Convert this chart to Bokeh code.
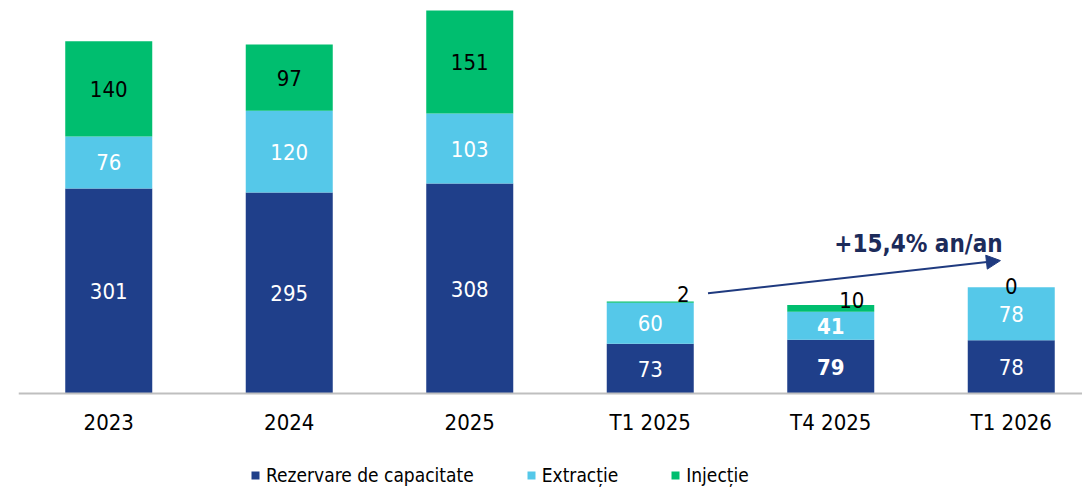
from bokeh.plotting import figure
from bokeh.models import (Range1d, ColumnDataSource, Legend, LegendItem, Arrow,
                          NormalHead, Label, FixedTicker)
from bokeh.core.properties import value
from bokeh.embed import file_html
from bokeh.resources import INLINE

# ---- data ----
categories = ["2023", "2024", "2025", "T1 2025", "T4 2025", "T1 2026"]
rezervare = [301, 295, 308, 73, 79, 78]
extractie = [76, 120, 103, 60, 41, 78]
injectie = [140, 97, 151, 2, 10, 0]
series_names = ["Rezervare de capacitate", "Extracție", "Injecție"]
growth_text = "+15,4% an/an"

# ---- style ----
colors = ["#1F3F8A", "#55C8E9", "#00BE6F"]
label_colors = ["white", "white", "black"]
bold_categories = ["T4 2025"]
FONT = "DejaVu Sans Condensed"
NAVY = "#1F3A7F"
# pixel offsets of the small injection labels (Excel-style placement)
inj_dx = [0, 0, 0, 33, 21, 0]
inj_dy = [0, 0, 0, 8, 8, 1]

xs = list(range(len(categories)))
src = ColumnDataSource(dict(x=xs, r=rezervare, e=extractie, i=injectie))

p = figure(width=1082, height=487, x_range=Range1d(-0.5, -0.5 + 1064 / 180.5),
           y_range=Range1d(-138, 565), output_backend="svg", toolbar_location=None,
           min_border_left=18, min_border_right=0, min_border_top=8, min_border_bottom=0)

rs = p.vbar_stack(["r", "e", "i"], x="x", width=0.482, source=src, color=colors,
                  line_color=None)

# data labels
lx, ly, lt, lc, ls, ldx, ldy = [], [], [], [], [], [], []
for j, cat in enumerate(categories):
    bottom = 0
    for k, vals in enumerate([rezervare, extractie, injectie]):
        v = vals[j]
        lx.append(j)
        ly.append(bottom + v / 2)
        lt.append(str(v))
        lc.append(label_colors[k])
        ls.append("bold" if (cat in bold_categories and k < 2) else "normal")
        if k == 2:
            ldx.append(inj_dx[j]); ldy.append(-inj_dy[j])
        else:
            ldx.append(0); ldy.append(0)
        bottom += v
lsrc = ColumnDataSource(dict(x=lx, y=ly, t=lt, c=lc, s=ls, dx=ldx, dy=ldy))
p.text(x="x", y="y", text="t", source=lsrc, text_color="c", text_font_style="s",
       x_offset="dx", y_offset="dy", text_align="center", text_baseline="middle",
       text_font=value(FONT), text_font_size="22px")

# growth arrow + label
p.add_layout(Arrow(end=NormalHead(size=14, fill_color=NAVY, line_color=NAVY),
                   x_start=3 + 0.32, y_start=147, x_end=5 - 0.06, y_end=195,
                   line_color=NAVY, line_width=2))
p.add_layout(Label(x=4.486, y=220, text=growth_text, text_align="center",
                   text_baseline="middle", text_font=FONT, text_font_size="24px",
                   text_font_style="bold", text_color="#1C2B5A"))

# axes
p.yaxis.visible = False
p.xgrid.visible = False
p.ygrid.visible = False
p.outline_line_color = None
xa = p.xaxis[0]
xa.fixed_location = 0
xa.ticker = FixedTicker(ticks=xs)
xa.major_label_overrides = {i: c for i, c in enumerate(categories)}
xa.major_tick_line_color = None
xa.minor_tick_line_color = None
xa.axis_line_color = "#BFBFBF"
xa.axis_line_width = 2
xa.major_label_standoff = 11
xa.major_label_text_font = FONT
xa.major_label_text_font_size = "22px"
xa.major_label_text_color = "black"

legend = Legend(items=[LegendItem(label=n, renderers=[r]) for n, r in zip(series_names, rs)],
                orientation="horizontal", location=(232, 1), padding=0, margin=0,
                spacing=52, glyph_width=10, glyph_height=10, label_standoff=6,
                border_line_color=None, background_fill_alpha=0,
                label_text_font=FONT, label_text_font_size="19px",
                label_text_color="black")
p.add_layout(legend, "center")

open("out.html", "w").write(file_html(p, INLINE))
